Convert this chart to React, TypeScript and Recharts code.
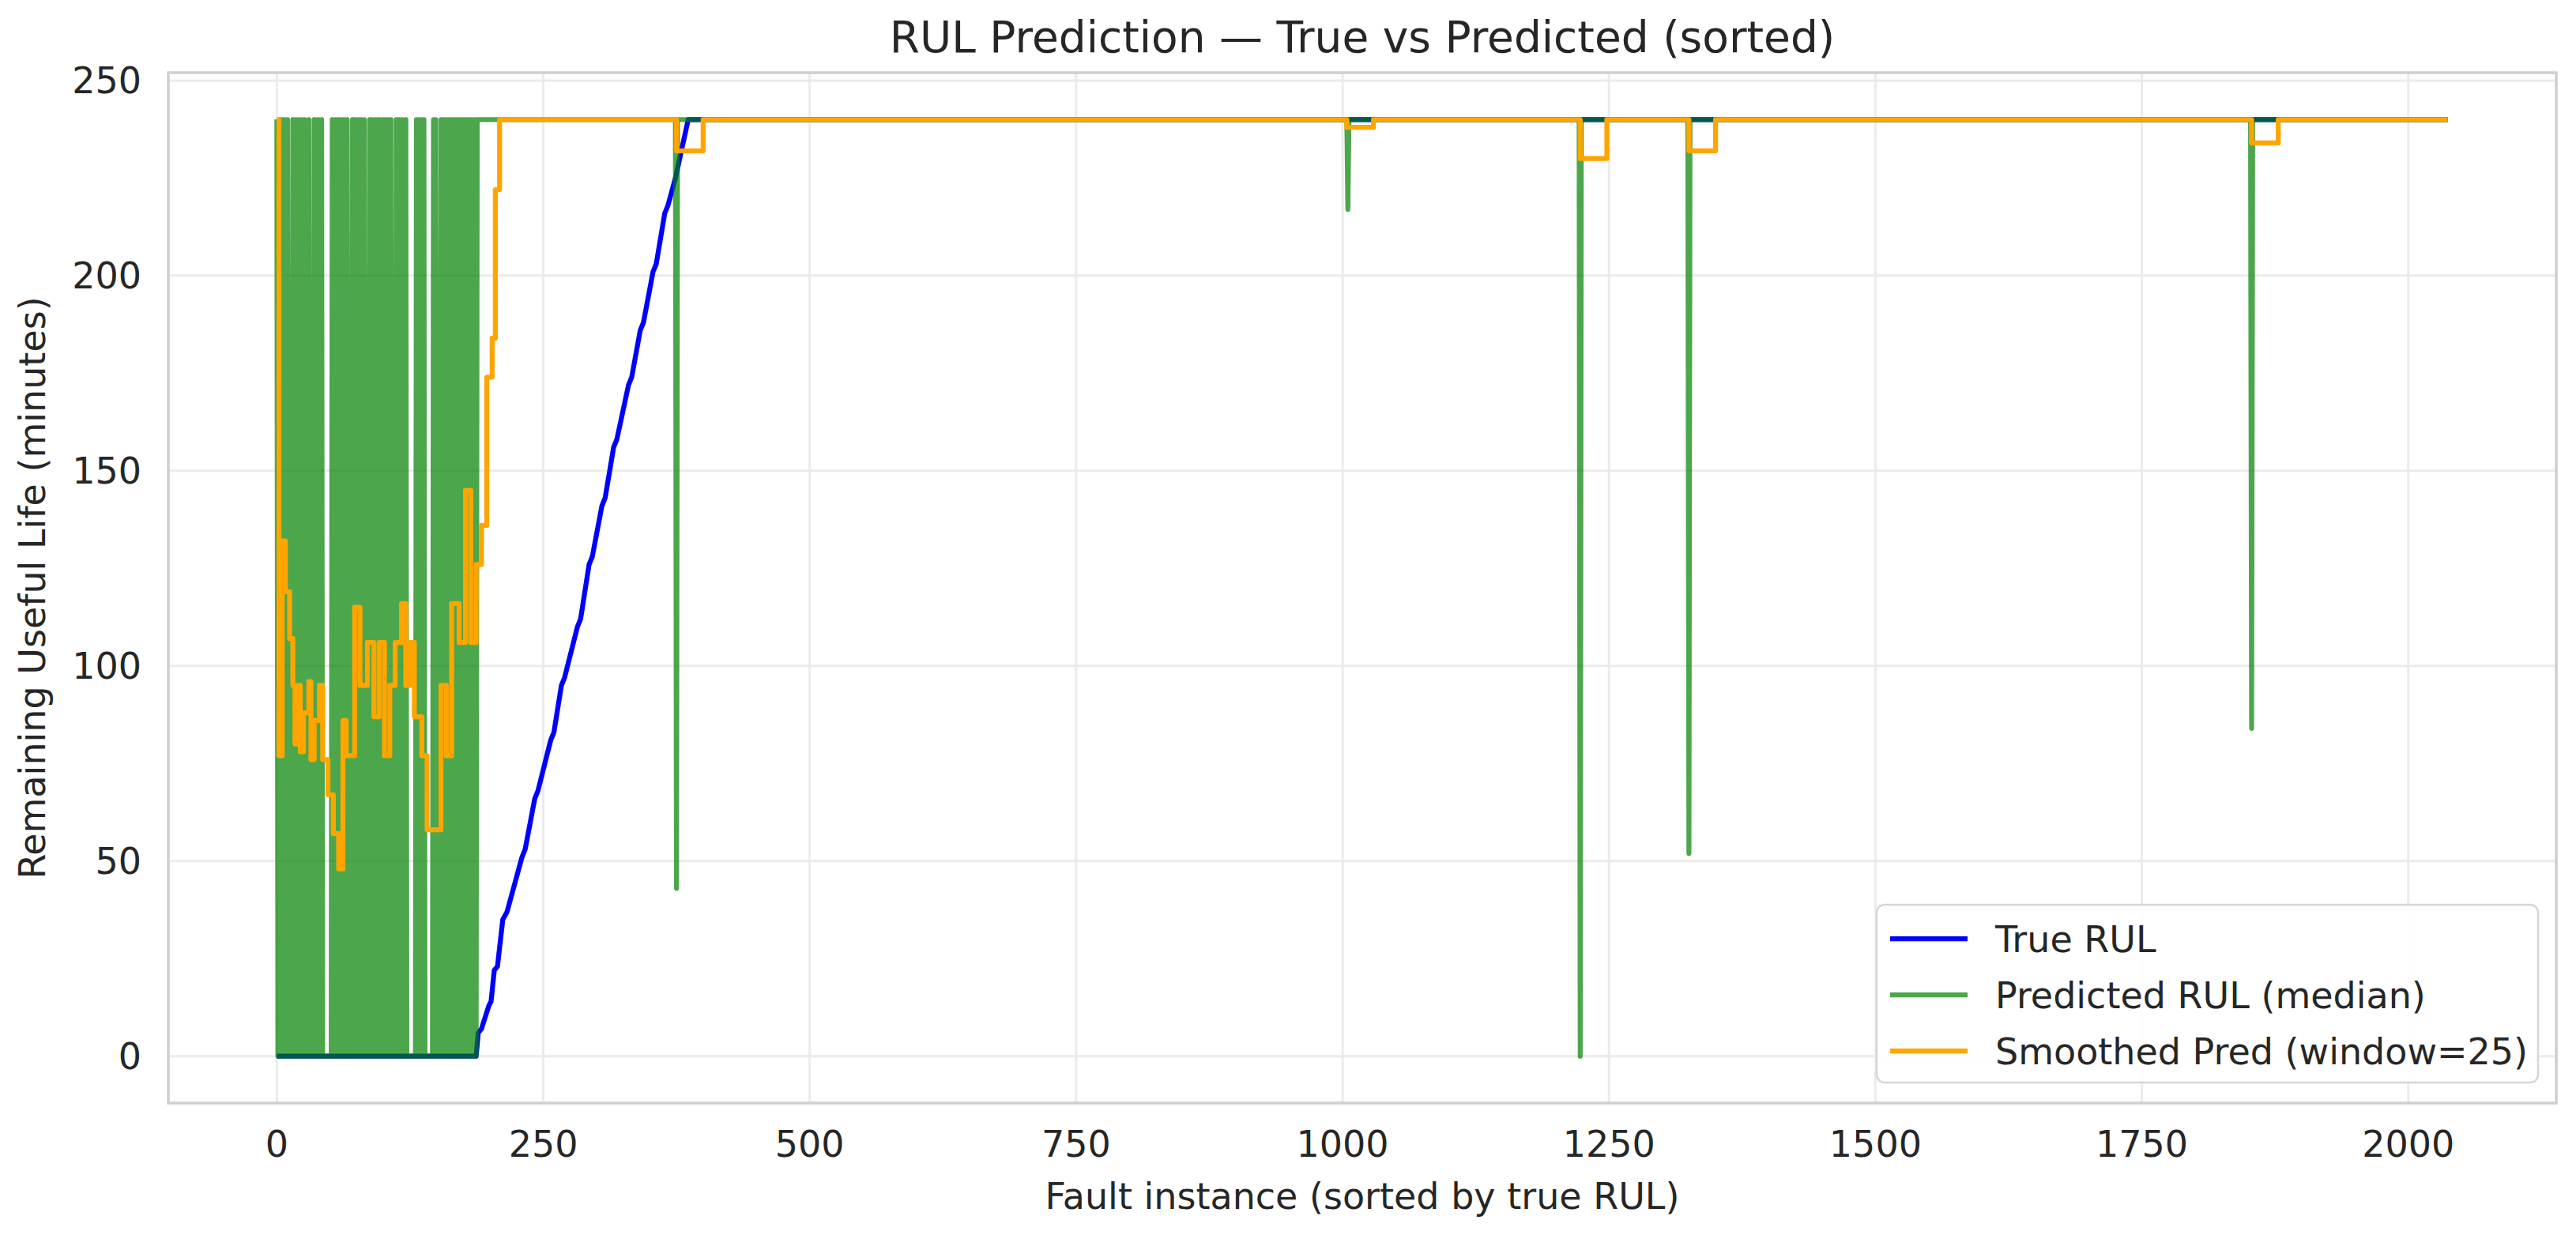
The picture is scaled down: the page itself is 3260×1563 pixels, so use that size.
import { CartesianGrid, Line, LineChart, ReferenceArea, XAxis, YAxis } from "recharts";

// Sorted RUL predictions: true value, raw median prediction and its 25-wide rolling mean.
const FONT = "'DejaVu Sans', sans-serif";
const TEXT = "#262626";

const xTicks = [0, 250, 500, 750, 1000, 1250, 1500, 1750, 2000];
const yTicks = [0, 50, 100, 150, 200, 250];

const X_DOMAIN: [number, number] = [-101.85, 2138.85];
const Y_DOMAIN: [number, number] = [-12, 252];

// True RUL, stair corners (index, minutes)
const trueRul: [number, number][] = [
  [0, 0], [187, 0], [189, 6], [192, 7], [199, 13], [201, 14], [204, 22], [207, 23],
  [212, 35], [216, 37], [230, 51], [233, 53], [242, 66], [245, 68], [257, 81], [260, 83],
  [267, 95], [270, 97], [282, 110], [285, 112], [293, 126], [296, 128], [305, 141],
  [308, 143], [316, 156], [319, 158], [330, 172], [333, 174], [341, 186], [344, 188],
  [353, 201], [356, 203], [364, 216], [367, 218], [374, 225], [386, 240], [2037, 240],
];

// Predicted RUL for the first instances (one value per index, 0..187)
const predHead = [
  240, 0, 0, 240, 0, 240, 0, 240, 0, 0,
  240, 0, 0, 0, 0, 240, 240, 0, 240, 0,
  0, 240, 0, 0, 240, 0, 240, 0, 0, 0,
  240, 0, 0, 0, 0, 240, 240, 0, 0, 240,
  0, 0, 240, 0, 0, 0, 0, 0, 0, 0,
  0, 0, 240, 0, 0, 240, 0, 240, 0, 240,
  0, 0, 240, 0, 240, 0, 240, 0, 0, 0,
  0, 240, 240, 0, 240, 0, 0, 240, 0, 240,
  0, 0, 240, 0, 0, 0, 0, 240, 240, 0,
  240, 0, 0, 240, 0, 240, 0, 240, 0, 0,
  240, 0, 240, 0, 0, 240, 0, 240, 0, 0,
  0, 0, 240, 240, 0, 240, 0, 0, 240, 0,
  0, 240, 0, 0, 0, 0, 0, 0, 0, 0,
  0, 240, 0, 240, 0, 0, 240, 0, 240, 0,
  0, 0, 0, 0, 0, 0, 0, 240, 0, 240,
  0, 0, 0, 0, 240, 240, 0, 240, 0, 240,
  0, 0, 240, 0, 240, 0, 240, 0, 240, 0,
  240, 0, 240, 0, 240, 0, 240, 0, 240, 0,
  240, 0, 240, 0, 240, 0, 240, 0,
];

// Predicted RUL after that: flat at 240 with a few single-instance drops
const predTail: [number, number][] = [
  [188, 240], [374, 240], [375, 43], [376, 240],
  [1004, 240], [1005, 217], [1006, 240],
  [1222, 240], [1223, 0], [1224, 240],
  [1324, 240], [1325, 52], [1326, 240],
  [1852, 240], [1853, 84], [1854, 240],
  [2037, 240],
];

// Smoothed prediction, step vertices (value holds until the next index)
const smoothed: [number, number][] = [
  [0, 240], [2, 77], [5, 132], [8, 119], [12, 107], [15, 95], [17, 80], [20, 95],
  [22, 78], [25, 88], [30, 96], [32, 76], [35, 86], [40, 95], [43, 76], [48, 67],
  [53, 57], [58, 48], [62, 86], [65, 77], [73, 115], [78, 95], [85, 106], [91, 87],
  [96, 106], [101, 77], [106, 95], [111, 106], [117, 116], [121, 95], [125, 106],
  [129, 87], [136, 77], [141, 58], [154, 95], [159, 77], [164, 116], [171, 106],
  [177, 145], [182, 106], [187, 126], [192, 136], [197, 174], [202, 184], [205, 222],
  [209, 240], [375, 232], [400, 240], [1004, 238], [1029, 240], [1223, 230],
  [1248, 240], [1325, 232], [1350, 240], [1853, 234], [1878, 240], [2037, 240],
];

const toPoints = (pts: [number, number][]) => pts.map(([x, y]) => ({ x, y }));

const trueData = toPoints(trueRul);
const predData = [...predHead.map((y, x) => ({ x, y })), ...toPoints(predTail)];
const smoothData = toPoints(smoothed);

const SERIES = [
  { name: "True RUL", color: "#0000ff", opacity: 1 },
  { name: "Predicted RUL (median)", color: "#008000", opacity: 0.7 },
  { name: "Smoothed Pred (window=25)", color: "#ffa500", opacity: 1 },
];

const tickStyle = { fontSize: 46, fill: TEXT, fontFamily: FONT };

export default function App() {
  return (
    <div style={{ position: "absolute", left: 0, top: 0, width: 3260, height: 1563, background: "#fff" }}>
      <LineChart width={3260} height={1563} margin={{ top: 92, right: 25, bottom: 67, left: 0 }}>
        <CartesianGrid stroke="#ebebeb" strokeWidth={3} />
        <XAxis
          type="number"
          dataKey="x"
          domain={X_DOMAIN}
          ticks={xTicks}
          interval={0}
          allowDataOverflow
          axisLine={false}
          tickLine={false}
          tickSize={0}
          tickMargin={35}
          height={100}
          tick={tickStyle}
        />
        <YAxis
          type="number"
          dataKey="y"
          domain={Y_DOMAIN}
          ticks={yTicks}
          interval={0}
          allowDataOverflow
          axisLine={false}
          tickLine={false}
          tickSize={0}
          tickMargin={34}
          width={213}
          tick={tickStyle}
        />
        <ReferenceArea
          x1={X_DOMAIN[0]}
          x2={X_DOMAIN[1]}
          y1={Y_DOMAIN[0]}
          y2={Y_DOMAIN[1]}
          fill="none"
          stroke="#d0d0d0"
          strokeWidth={3.5}
        />
        <Line
          data={trueData}
          dataKey="y"
          name={SERIES[0].name}
          type="linear"
          stroke={SERIES[0].color}
          strokeWidth={6.25}
          strokeLinejoin="round"
          dot={false}
          activeDot={false}
          isAnimationActive={false}
        />
        <Line
          data={predData}
          dataKey="y"
          name={SERIES[1].name}
          type="linear"
          stroke={SERIES[1].color}
          strokeOpacity={SERIES[1].opacity}
          strokeWidth={6.25}
          strokeLinejoin="round"
          dot={false}
          activeDot={false}
          isAnimationActive={false}
        />
        <Line
          data={smoothData}
          dataKey="y"
          name={SERIES[2].name}
          type="stepAfter"
          stroke={SERIES[2].color}
          strokeWidth={6.25}
          strokeLinejoin="round"
          dot={false}
          activeDot={false}
          isAnimationActive={false}
        />
      </LineChart>

      <svg
        width={3260}
        height={1563}
        style={{ position: "absolute", left: 0, top: 0, pointerEvents: "none" }}
        fontFamily={FONT}
        fill={TEXT}
      >
        <text x={1724} y={66} fontSize={55} textAnchor="middle">
          RUL Prediction — True vs Predicted (sorted)
        </text>
        <text x={1724} y={1530} fontSize={46} textAnchor="middle">
          Fault instance (sorted by true RUL)
        </text>
        <text x={57} y={744} fontSize={46} textAnchor="middle" transform="rotate(-90 57 744)">
          Remaining Useful Life (minutes)
        </text>

        <rect x={2375} y={1145} width={837} height={225} rx={10} fill="#fff" fillOpacity={0.9} stroke="#d6d6d6" strokeWidth={2.5} />
        {SERIES.map((s, i) => {
          const cy = 1188 + i * 71;
          return (
            <g key={s.name}>
              <line x1={2392} x2={2490} y1={cy} y2={cy} stroke={s.color} strokeOpacity={s.opacity} strokeWidth={6.25} />
              <text x={2525} y={cy + 17} fontSize={46}>
                {s.name}
              </text>
            </g>
          );
        })}
      </svg>
    </div>
  );
}
